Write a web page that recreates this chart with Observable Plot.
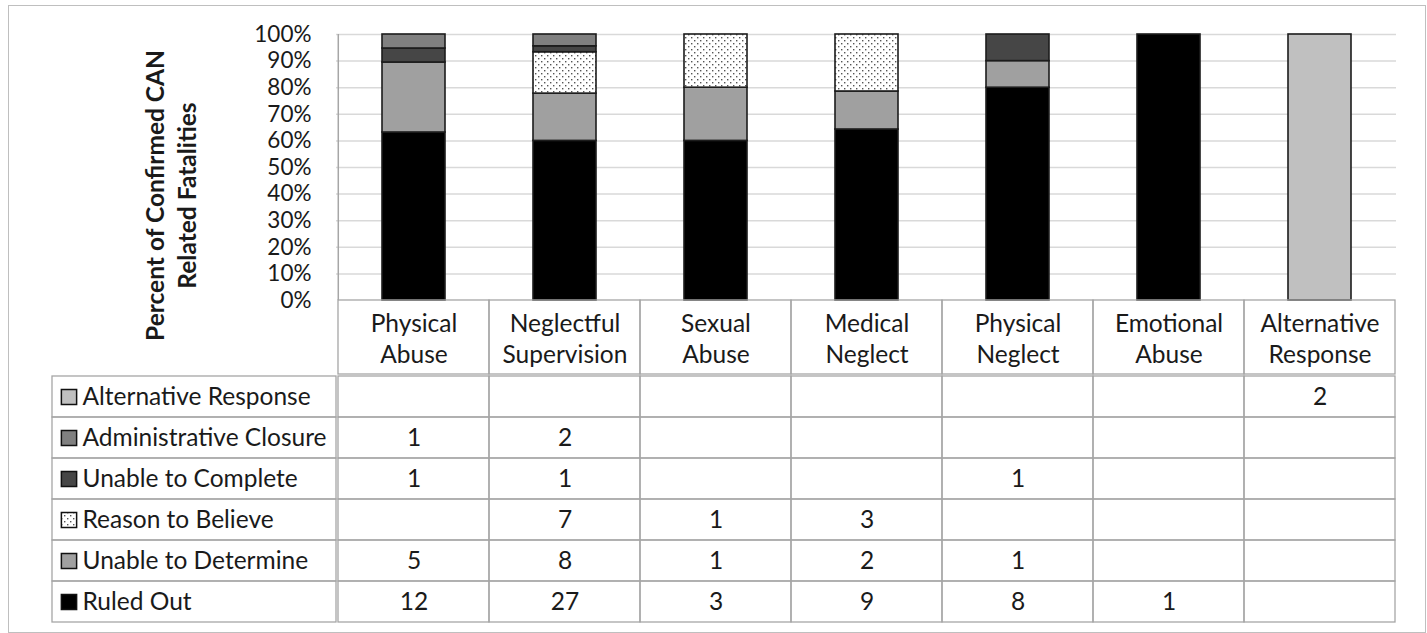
<!DOCTYPE html>
<html>
<head>
<meta charset="utf-8">
<script src="https://cdn.jsdelivr.net/npm/d3@7"></script>
<script src="https://cdn.jsdelivr.net/npm/@observablehq/plot@0.6"></script>
<style>
  body { margin: 0; background: #fff; }
  #wrap { position: relative; width: 1427px; height: 633px; overflow: hidden; background: #fff; font-family: Lato, "Open Sans", sans-serif; }
  #frame { position: absolute; left: 8px; top: 5px; width: 1418px; height: 628px; border: 1px solid #bfbfbf; box-sizing: border-box; }
  .layer { position: absolute; left: 0; }
</style>
</head>
<body>
<div id="wrap"><div id="frame"></div></div>
<script>
// ---------- data ----------
const categories = ["Physical Abuse", "Neglectful Supervision", "Sexual Abuse", "Medical Neglect", "Physical Neglect", "Emotional Abuse", "Alternative Response"];
const categoryLabels = ["Physical\nAbuse", "Neglectful\nSupervision", "Sexual\nAbuse", "Medical\nNeglect", "Physical\nNeglect", "Emotional\nAbuse", "Alternative\nResponse"];
// stacking order, bottom to top
const dispositions = ["Ruled Out", "Unable to Determine", "Reason to Believe", "Unable to Complete", "Administrative Closure", "Alternative Response"];
const ruledOut              = [12, 27, 3, 9, 8, 1, 0];
const unableToDetermine     = [5, 8, 1, 2, 1, 0, 0];
const reasonToBelieve       = [0, 7, 1, 3, 0, 0, 0];
const unableToComplete      = [1, 1, 0, 0, 1, 0, 0];
const administrativeClosure = [1, 2, 0, 0, 0, 0, 0];
const alternativeResponse   = [0, 0, 0, 0, 0, 0, 2];
const yTicks = [0, 0.1, 0.2, 0.3, 0.4, 0.5, 0.6, 0.7, 0.8, 0.9, 1];
const yLabel = "Percent of Confirmed CAN\nRelated Fatalities";
const dispositionColors = ["#000000", "#a0a0a0", "url(#rtb-dots)", "#464646", "#808080", "#c0c0c0"];

const seriesValues = [ruledOut, unableToDetermine, reasonToBelieve, unableToComplete, administrativeClosure, alternativeResponse];
const rows = [];
dispositions.forEach((disp, j) => categories.forEach((cat, i) => rows.push({category: cat, disposition: disp, count: seriesValues[j][i]})));
const nonzero = rows.filter(d => d.count > 0);
const tableOrder = dispositions.slice().reverse(); // top to bottom in table

// ---------- layout ----------
const W = 1427, ML = 336, MR = 31;
const FONT = "Lato, 'Open Sans', sans-serif";
const TEXT = "#1a1a1a";
const GRID = "#a6a6a6";
const FS = 24.5;
const step = (W - ML - MR) / categories.length;
const colorScale = {domain: dispositions, range: dispositionColors};
const baseStyle = {fontFamily: FONT, fontSize: FS + "px", color: TEXT, background: "transparent", overflow: "visible"};

const wrap = document.getElementById("wrap");
// pattern defs
const defsHolder = document.createElement("div");
defsHolder.innerHTML = `<svg width="0" height="0" style="position:absolute"><defs>
<pattern id="rtb-dots" patternUnits="userSpaceOnUse" width="6" height="6">
<rect width="6" height="6" fill="#ffffff"/>
<rect x="1" y="1" width="1.4" height="1.4" fill="#555"/>
<rect x="4" y="4" width="1.4" height="1.4" fill="#555"/>
</pattern></defs></svg>`;
wrap.appendChild(defsHolder.firstChild);

function place(node, top) {
  node.classList.add("layer");
  node.style.top = top + "px";
  wrap.appendChild(node);
}

// ---------- bar chart ----------
const p1 = Plot.plot({
  width: W, height: 302, marginLeft: ML, marginRight: MR, marginTop: 34, marginBottom: 2,
  x: {domain: categories, padding: 0, axis: null},
  y: {domain: [0, 1], axis: null},
  color: colorScale,
  style: baseStyle,
  marks: [
    Plot.ruleY(yTicks.filter(d => d > 0), {stroke: "#d9d9d9", strokeWidth: 1.5}),
    Plot.ruleX([categories[0]], {dx: -step / 2, stroke: GRID, strokeWidth: 1.5}),
    Plot.barY(nonzero, Plot.stackY({offset: "normalize", order: dispositions}, {
      x: "category", y: "count", fill: "disposition",
      stroke: "#1c1c1c", strokeWidth: 1.6, insetLeft: 44, insetRight: 44
    })),
    Plot.axisY({ticks: yTicks, tickFormat: d => Math.round(d * 100) + "%", tickSize: 0, tickPadding: 25, label: null, fontSize: 22.5, fill: TEXT}),
    Plot.text([yLabel], {frameAnchor: "left", textAnchor: "middle", lineAnchor: "middle", dx: -167, dy: 28, rotate: -90, fontWeight: "bold", fontSize: 24.5, lineHeight: 1.3, fill: TEXT})
  ]
});
place(p1, 0);

// ---------- table header ----------
const p2 = Plot.plot({
  width: W, height: 76, marginLeft: ML, marginRight: MR, marginTop: 1, marginBottom: 1,
  x: {domain: categories, padding: 0, axis: null},
  y: {type: "band", domain: ["header"], padding: 0, axis: null},
  style: baseStyle,
  marks: [
    Plot.cell(categories, {x: d => d, y: () => "header", fill: "none", stroke: GRID, strokeWidth: 1.3, inset: 0}),
    Plot.text(categories, {x: d => d, y: () => "header", text: (d, i) => categoryLabels[i], fontSize: FS, lineHeight: 1.27, fill: TEXT})
  ]
});
place(p2, 299);

// ---------- legend column ----------
const p3a = Plot.plot({
  width: W, height: 251, marginLeft: 52, marginRight: W - ML, marginTop: 1, marginBottom: 1,
  x: {type: "band", domain: ["legend"], padding: 0, axis: null},
  y: {type: "band", domain: tableOrder, padding: 0, axis: null},
  color: colorScale,
  style: baseStyle,
  marks: [
    Plot.cell(tableOrder, {x: () => "legend", y: d => d, fill: "none", stroke: GRID, strokeWidth: 1.3, inset: 0}),
    Plot.dot(tableOrder, {y: d => d, frameAnchor: "left", dx: 16.5, symbol: "square", r: 8.6, fill: d => d, stroke: "#111", strokeWidth: 1.5}),
    Plot.text(tableOrder, {y: d => d, frameAnchor: "left", dx: 30, textAnchor: "start", text: d => d, fontSize: FS, fill: TEXT})
  ]
});
place(p3a, 373);

// ---------- data cells ----------
const p3b = Plot.plot({
  width: W, height: 251, marginLeft: ML, marginRight: MR, marginTop: 1, marginBottom: 1,
  x: {domain: categories, padding: 0, axis: null},
  y: {type: "band", domain: tableOrder, padding: 0, axis: null},
  style: baseStyle,
  marks: [
    Plot.cell(rows, {x: "category", y: "disposition", fill: "none", stroke: GRID, strokeWidth: 1.3, inset: 0}),
    Plot.text(nonzero, {x: "category", y: "disposition", text: d => String(d.count), fontSize: FS, fill: TEXT})
  ]
});
place(p3b, 373);
</script>
</body>
</html>
